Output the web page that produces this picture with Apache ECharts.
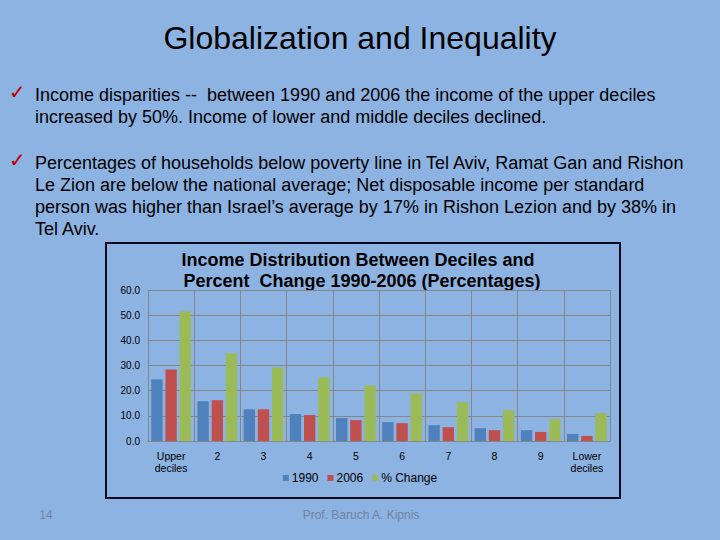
<!DOCTYPE html>
<html><head><meta charset="utf-8">
<script src="https://cdn.jsdelivr.net/npm/echarts@6/dist/echarts.min.js"></script>
<style>html,body{margin:0;padding:0;background:#8DB3E2;}#c{width:720px;height:540px;}</style>
</head><body><div id="c"></div>
<script>
var categories = ['Upper\ndeciles','2','3','4','5','6','7','8','9','Lower\ndeciles'];
var seriesNames = ['1990','2006','% Change'];
var values1990 = [24.5,15.8,12.6,10.7,9.1,7.5,6.3,5.1,4.3,2.8];
var values2006 = [28.4,16.2,12.6,10.3,8.3,7.1,5.5,4.3,3.6,2.0];
var valuesChange = [51.6,34.9,29.2,25.3,22.1,18.9,15.4,12.2,8.7,11.1];
var yTicks = [0,10,20,30,40,50,60];

var slideFont = 'Liberation Sans, Arial, sans-serif';
var bodyLines1 = ['Income disparities --  between 1990 and 2006 the income of the upper deciles','increased by 50%. Income of lower and middle deciles declined.'];
var bodyLines2 = ['Percentages of households below poverty line in Tel Aviv, Ramat Gan and Rishon','Le Zion are below the national average; Net disposable income per standard','person was higher than Israel\u2019s average by 17% in Rishon Lezion and by 38% in','Tel Aviv.'];

var graphics = [];
graphics.push({type:'text',x:360,y:38,style:{text:'Globalization and Inequality',font:'32px '+slideFont,fill:'#000',textAlign:'center',textVerticalAlign:'middle'}});
function addLines(lines, y0){
  lines.forEach(function(t,i){
    graphics.push({type:'text',x:35,y:y0+i*22,style:{text:t,font:'18px '+slideFont,fill:'#000',textVerticalAlign:'middle'}});
  });
}
graphics.push({type:'text',x:9,y:92,style:{text:'\u2713',font:'bold 20px DejaVu Sans',fill:'#C00000',textVerticalAlign:'middle'}});
addLines(bodyLines1,95);
graphics.push({type:'text',x:9,y:160,style:{text:'\u2713',font:'bold 20px DejaVu Sans',fill:'#C00000',textVerticalAlign:'middle'}});
addLines(bodyLines2,163);
graphics.push({type:'rect',shape:{x:106,y:243,width:514,height:255},style:{fill:'none',stroke:'#0a0a1e',lineWidth:2},z:-1});
graphics.push({type:'text',x:358,y:260,style:{text:'Income Distribution Between Deciles and',font:'bold 18px '+slideFont,fill:'#000',textAlign:'center',textVerticalAlign:'middle'}});
graphics.push({type:'text',x:362,y:281,style:{text:'Percent  Change 1990-2006 (Percentages)',font:'bold 18px '+slideFont,fill:'#000',textAlign:'center',textVerticalAlign:'middle'}});
graphics.push({type:'text',x:46,y:515,style:{text:'14',font:'12px '+slideFont,fill:'#6F84A6',textAlign:'center',textVerticalAlign:'middle'}});
graphics.push({type:'text',x:361,y:515,style:{text:'Prof. Baruch A. Kipnis',font:'12px '+slideFont,fill:'#6F84A6',textAlign:'center',textVerticalAlign:'middle'}});

var chart = echarts.init(document.getElementById('c'), null, {renderer:'svg'});
var colors = ['#4F81BD','#C0504D','#9BBB59'];
var seriesData = [values1990, values2006, valuesChange];
chart.setOption({
  backgroundColor:'#8DB3E2',
  animation:false,
  color:colors,
  graphic:graphics,
  grid:{left:148,right:110,top:290,bottom:99},
  legend:{data:seriesNames,left:'center',top:467,itemWidth:6,itemHeight:6,itemGap:9,icon:'rect',
    textStyle:{fontSize:12,fontFamily:slideFont,color:'#000',padding:[0,0,0,-2]}},
  xAxis:{type:'category',data:categories,
    axisLine:{lineStyle:{color:'#868686'}},axisTick:{show:false},
    axisLabel:{fontSize:10.5,fontFamily:slideFont,color:'#000',lineHeight:12,interval:0,margin:9},
    splitLine:{show:true,lineStyle:{color:'#868686'}}},
  yAxis:{type:'value',min:0,max:60,interval:10,
    axisLine:{show:true,lineStyle:{color:'#868686'}},axisTick:{show:false},
    axisLabel:{fontSize:10,fontFamily:slideFont,color:'#000',margin:8,formatter:function(v){return v.toFixed(1);}},
    splitLine:{lineStyle:{color:'#868686'}}},
  series:seriesNames.map(function(n,i){return {name:n,type:'bar',data:seriesData[i],barGap:'25%',barCategoryGap:'14%'};})
});
</script></body></html>
